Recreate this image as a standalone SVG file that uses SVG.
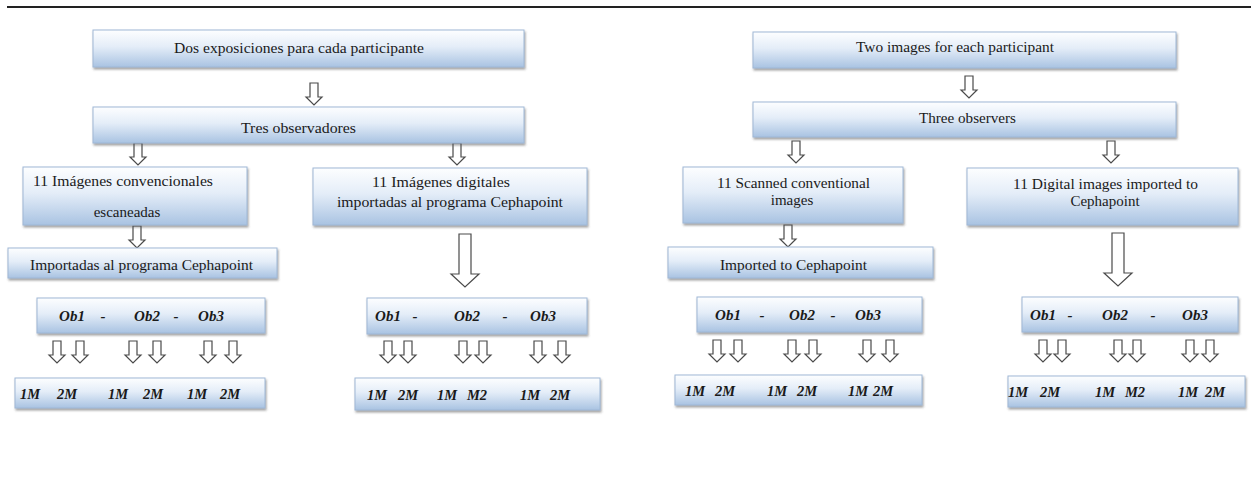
<svg xmlns="http://www.w3.org/2000/svg" xmlns:xlink="http://www.w3.org/1999/xlink" width="1251" height="478" viewBox="0 0 1251 478">
<defs>
<linearGradient id="g" x1="0" y1="0" x2="0" y2="1">
<stop offset="0" stop-color="#fdfeff"/>
<stop offset="0.45" stop-color="#e4edf8"/>
<stop offset="1" stop-color="#a9c3e2"/>
</linearGradient>
<filter id="sh" x="-5%" y="-20%" width="110%" height="150%">
<feDropShadow dx="1" dy="2" stdDeviation="1.2" flood-color="#555" flood-opacity="0.55"/>
</filter>
<path id="aS" d="M-4,0 H4 V14 H8 L0,22 L-8,14 H-4 Z"/>
<path id="aB" d="M-6,0 H6 V40 H14 L0,53 L-14,40 H-6 Z"/>
</defs>
<style>
.box{fill:url(#g);stroke:#9fb8d6;stroke-width:1;filter:url(#sh)}
.t{font-family:"Liberation Serif",serif;font-size:15px;fill:#1a1a1a}
.ob{font-family:"Liberation Serif",serif;font-size:15px;font-weight:bold;font-style:italic;fill:#1a1a1a;text-anchor:middle}
.m{font-family:"Liberation Serif",serif;font-size:14.5px;font-weight:bold;font-style:italic;fill:#1a1a1a;text-anchor:middle}
.ar use{fill:#fff;stroke:#4a4a4a;stroke-width:1.2}
</style>
<rect width="1251" height="478" fill="#fff"/>
<line x1="7" y1="7" x2="1251" y2="7" stroke="#222" stroke-width="2"/>

<g id="connectors" class="ar">
<use href="#aS" x="314" y="83"/>
<use href="#aS" x="138" y="143"/>
<use href="#aS" x="457" y="143"/>
<use href="#aS" x="137" y="226"/>
<use href="#aB" x="465" y="234"/>
<use href="#aS" x="57" y="341"/><use href="#aS" x="80" y="341"/>
<use href="#aS" x="133" y="341"/><use href="#aS" x="157" y="341"/>
<use href="#aS" x="208" y="341"/><use href="#aS" x="233" y="341"/>
<use href="#aS" x="388" y="341"/><use href="#aS" x="408" y="341"/>
<use href="#aS" x="463" y="341"/><use href="#aS" x="483" y="341"/>
<use href="#aS" x="538" y="341"/><use href="#aS" x="562" y="341"/>
<use href="#aS" x="969" y="76"/>
<use href="#aS" x="796" y="141"/>
<use href="#aS" x="1111" y="141"/>
<use href="#aS" x="788" y="225"/>
<use href="#aB" x="1118" y="233"/>
<use href="#aS" x="717" y="340"/><use href="#aS" x="738" y="340"/>
<use href="#aS" x="792" y="340"/><use href="#aS" x="813" y="340"/>
<use href="#aS" x="867" y="340"/><use href="#aS" x="890" y="340"/>
<use href="#aS" x="1043" y="340"/><use href="#aS" x="1062" y="340"/>
<use href="#aS" x="1118" y="340"/><use href="#aS" x="1137" y="340"/>
<use href="#aS" x="1190" y="340"/><use href="#aS" x="1210" y="340"/>
</g>

<g id="nodeA"><rect class="box" x="93" y="30" width="431" height="37"/>
<text class="t" x="174" y="53" textLength="250" lengthAdjust="spacingAndGlyphs">Dos exposiciones  para cada participante</text></g>
<g id="nodeB"><rect class="box" x="93" y="107" width="431" height="36"/>
<text class="t" x="241" y="133" textLength="115" lengthAdjust="spacingAndGlyphs">Tres  observadores</text></g>
<g id="nodeC"><rect class="box" x="23" y="167" width="224" height="58"/>
<text class="t" x="33" y="186" textLength="180" lengthAdjust="spacingAndGlyphs">11 Imágenes  convencionales</text>
<text class="t" x="127" y="217" text-anchor="middle">escaneadas</text></g>
<g id="nodeD"><rect class="box" x="313" y="168" width="274" height="57"/>
<text class="t" x="372" y="187" textLength="138" lengthAdjust="spacingAndGlyphs">11 Imágenes  digitales</text>
<text class="t" x="337" y="207" textLength="226" lengthAdjust="spacingAndGlyphs">importadas  al  programa  Cephapoint</text></g>
<g id="nodeR"><rect class="box" x="8" y="248" width="269" height="30"/>
<text class="t" x="30" y="270" textLength="223" lengthAdjust="spacingAndGlyphs">Importadas  al  programa  Cephapoint</text></g>
<g id="nodeN"><rect class="box" x="37" y="298" width="228" height="35"/>
<text class="ob" x="72" y="321">Ob1</text><text class="ob" x="103" y="321">-</text>
<text class="ob" x="147" y="321">Ob2</text><text class="ob" x="176" y="321">-</text>
<text class="ob" x="211" y="321">Ob3</text></g>
<g id="nodeO"><rect class="box" x="15" y="378" width="250" height="30"/>
<text class="m" x="30" y="399">1M</text><text class="m" x="67" y="399">2M</text>
<text class="m" x="118" y="399">1M</text><text class="m" x="153" y="399">2M</text>
<text class="m" x="197" y="399">1M</text><text class="m" x="230" y="399">2M</text></g>
<g id="nodeP"><rect class="box" x="367" y="298" width="220" height="36"/>
<text class="ob" x="388" y="321">Ob1</text><text class="ob" x="415" y="321">-</text>
<text class="ob" x="467" y="321">Ob2</text><text class="ob" x="505" y="321">-</text>
<text class="ob" x="543" y="321">Ob3</text></g>
<g id="nodeQ"><rect class="box" x="355" y="378" width="245" height="32"/>
<text class="m" x="377" y="400">1M</text><text class="m" x="408" y="400">2M</text>
<text class="m" x="447" y="400">1M</text><text class="m" x="477" y="400">M2</text>
<text class="m" x="530" y="400">1M</text><text class="m" x="560" y="400">2M</text></g>

<g id="nodeE"><rect class="box" x="753" y="32" width="423" height="36"/>
<text class="t" x="856" y="52" textLength="198" lengthAdjust="spacingAndGlyphs">Two images  for each participant</text></g>
<g id="nodeF"><rect class="box" x="753" y="102" width="423" height="35"/>
<text class="t" x="919" y="123" textLength="97" lengthAdjust="spacingAndGlyphs">Three observers</text></g>
<g id="nodeG"><rect class="box" x="683" y="167" width="220" height="56"/>
<text class="t" x="717" y="188" textLength="153" lengthAdjust="spacingAndGlyphs">11 Scanned conventional</text>
<text class="t" x="792" y="205" text-anchor="middle">images</text></g>
<g id="nodeH"><rect class="box" x="668" y="247" width="265" height="31"/>
<text class="t" x="720" y="270" textLength="147" lengthAdjust="spacingAndGlyphs">Imported to Cephapoint</text></g>
<g id="nodeI"><rect class="box" x="967" y="168" width="271" height="57"/>
<text class="t" x="1013" y="189" textLength="185" lengthAdjust="spacingAndGlyphs">11 Digital  images  imported  to</text>
<text class="t" x="1105" y="206" text-anchor="middle">Cephapoint</text></g>
<g id="nodeJ"><rect class="box" x="697" y="297" width="225" height="35"/>
<text class="ob" x="728" y="320">Ob1</text><text class="ob" x="762" y="320">-</text>
<text class="ob" x="802" y="320">Ob2</text><text class="ob" x="833" y="320">-</text>
<text class="ob" x="868" y="320">Ob3</text></g>
<g id="nodeK"><rect class="box" x="675" y="375" width="247" height="30"/>
<text class="m" x="695" y="396">1M</text><text class="m" x="725" y="396">2M</text>
<text class="m" x="777" y="396">1M</text><text class="m" x="807" y="396">2M</text>
<text class="m" x="858" y="396">1M</text><text class="m" x="883" y="396">2M</text></g>
<g id="nodeL"><rect class="box" x="1022" y="297" width="216" height="35"/>
<text class="ob" x="1043" y="320">Ob1</text><text class="ob" x="1070" y="320">-</text>
<text class="ob" x="1115" y="320">Ob2</text><text class="ob" x="1153" y="320">-</text>
<text class="ob" x="1195" y="320">Ob3</text></g>
<g id="nodeM"><rect class="box" x="1008" y="376" width="237" height="31"/>
<text class="m" x="1018" y="397">1M</text><text class="m" x="1050" y="397">2M</text>
<text class="m" x="1105" y="397">1M</text><text class="m" x="1135" y="397">M2</text>
<text class="m" x="1188" y="397">1M</text><text class="m" x="1215" y="397">2M</text></g>
</svg>
